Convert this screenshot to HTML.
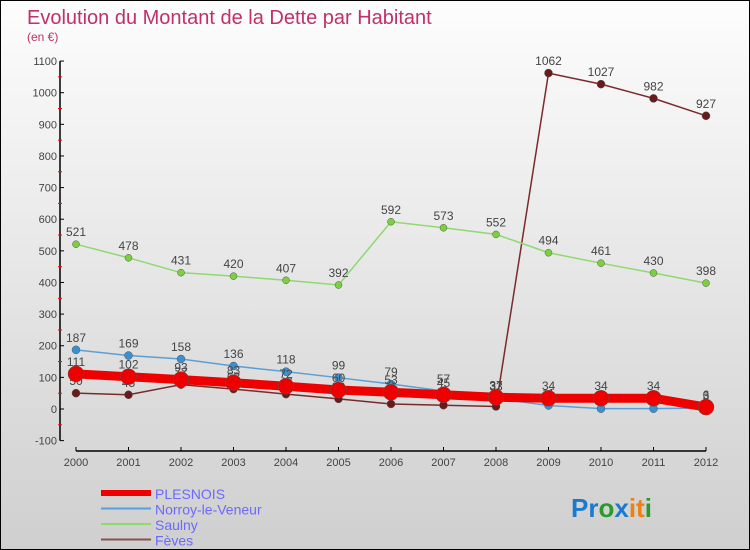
<!DOCTYPE html>
<html><head><meta charset="utf-8"><style>
body{margin:0;width:750px;height:550px;overflow:hidden;font-family:"Liberation Sans",sans-serif}
#wrap{position:relative;width:748px;height:548px;border:1px solid #000;background:linear-gradient(#fdfdfd,#cfcfcf)}
</style></head><body>
<div id="wrap">
<svg id="chart" width="748" height="548" style="position:absolute;left:0;top:0">
<text x="26" y="23" font-size="20" fill="#c0306a">Evolution du Montant de la Dette par Habitant</text>
<text x="26" y="40" font-size="12" fill="#c0306a">(en €)</text>
<g id="axes"></g><g id="series"></g>
<text x="570" y="516" font-size="26" font-weight="bold"><tspan fill="#1a7ad0">Pr</tspan><tspan fill="#2a9a2a">o</tspan><tspan fill="#1a7ad0">x</tspan><tspan fill="#f08010">it</tspan><tspan fill="#2a9a2a">i</tspan></text>
</svg>
</div>
<script>
const years=[2000,2001,2002,2003,2004,2005,2006,2007,2008,2009,2010,2011,2012];
const yTicks=[-100,0,100,200,300,400,500,600,700,800,900,1000,1100];
const plesnois=[111,102,93,83,72,60,53,45,37,34,34,34,6];
const norroy=[187,169,158,136,118,99,79,57,33,11,1,1,3];
const saulny=[521,478,431,420,407,392,592,573,552,494,461,430,398];
const feves=[50,45,77,63,47,32,16,12,8,1062,1027,982,927];
const NS="http://www.w3.org/2000/svg";
function X(i){return 75+i*52.5;}
function Y(v){return 408-v*0.3163;}
function mk(t,a,p){const e=document.createElementNS(NS,t);for(const k in a)e.setAttribute(k,a[k]);p.appendChild(e);return e;}
const ax=document.getElementById('axes');
let l=mk('line',{x1:59,y1:Y(1100),x2:59,y2:Y(-100),stroke:'#000','stroke-width':1.5},ax);


l=mk('line',{x1:X(0),y1:450,x2:X(12),y2:450,stroke:'#000','stroke-width':1.5},ax);


yTicks.forEach((v,i)=>{
  mk('line',{x1:59,y1:Y(v),x2:63,y2:Y(v),stroke:'#000'},ax);
  if(i<yTicks.length-1)mk('line',{x1:57,y1:Y(v+50),x2:61,y2:Y(v+50),stroke:'#f00'},ax);
  const t=mk('text',{x:56,y:Y(v)+4,'font-size':11,fill:'#444','text-anchor':'end'},ax);
  t.textContent=v;
  
  
});
years.forEach((y,i)=>{
  mk('line',{x1:X(i),y1:446,x2:X(i),y2:450,stroke:'#000'},ax);
  const t=mk('text',{x:X(i),y:465,'font-size':11,fill:'#444','text-anchor':'middle'},ax);
  t.textContent=y;
  
  
});
const sg=document.getElementById('series');
const defs=[
 {n:'feves',d:feves,c:'#7a2a2a',w:1.5,r:4,f:'#6a1a1a',label:'Fèves'},
 {n:'saulny',d:saulny,c:'#90d870',w:1.5,r:3.5,f:'#7cd040',label:'Saulny'},
 {n:'norroy',d:norroy,c:'#5aa0d8',w:1.5,r:4,f:'#3a90d0',label:'Norroy-le-Veneur'},
 {n:'plesnois',d:plesnois,c:'#ee0000',w:9,r:8,f:'#ee0000',label:'PLESNOIS'}];
defs.forEach(s=>{
  const g=mk('g',{},sg);
  
  
  const p=mk('polyline',{points:s.d.map((v,i)=>X(i)+','+Y(v)).join(' '),fill:'none',stroke:s.c,'stroke-width':s.w},g);
  
  
  s.d.forEach((v,i)=>{
    const c=mk('circle',{cx:X(i),cy:Y(v),r:s.r,fill:s.f,stroke:'#555','stroke-width':0.5},g);
    
    
    const t=mk('text',{x:X(i),y:Y(v)-8,'font-size':12,fill:'#444','text-anchor':'middle'},g);
    t.textContent=v;
    
    
  });
});
const lg=[['PLESNOIS','#ee0000',6],['Norroy-le-Veneur','#5aa0d8',2],['Saulny','#90d870',2],['Fèves','#8a5050',2]];
lg.forEach((e,i)=>{
  const y=492+i*15.5;
  const g=mk('g',{},sg);
  
  
  mk('line',{x1:100,y1:y,x2:150,y2:y,stroke:e[1],'stroke-width':e[2]},g);
  const t=mk('text',{x:154,y:y+6,'font-size':14,fill:'#6a6aff'},g);
  t.textContent=e[0];
});
</script>
</body></html>
